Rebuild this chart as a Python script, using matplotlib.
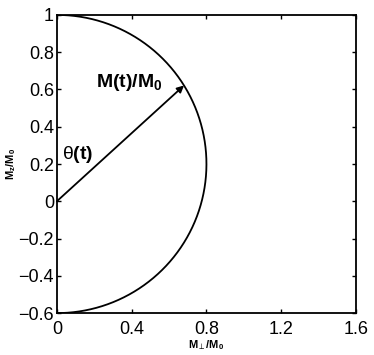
import numpy as np
import matplotlib
matplotlib.use('Agg')
import matplotlib.pyplot as plt

plt.rcParams['font.family'] = ['Liberation Sans', 'DejaVu Sans']
plt.rcParams['mathtext.fontset'] = 'custom'
plt.rcParams['mathtext.rm'] = 'Liberation Sans'
plt.rcParams['mathtext.bf'] = 'Liberation Sans:bold'
plt.rcParams['mathtext.it'] = 'Liberation Sans:italic'
plt.rcParams['mathtext.fallback'] = 'stixsans'

# circle traced by the magnetisation tip
center_z = 0.2
radius = 0.8
arrow_tip_x = 0.68

x_ticks = [0, 0.4, 0.8, 1.2, 1.6]
y_ticks = [-0.6, -0.4, -0.2, 0, 0.2, 0.4, 0.6, 0.8, 1]

phi = np.linspace(0, np.pi, 400)
mx = radius * np.sin(phi)
mz = center_z + radius * np.cos(phi)
tip_z = center_z + np.sqrt(radius**2 - arrow_tip_x**2)

fig = plt.figure(figsize=(3.74, 3.55), dpi=100)
ax = fig.add_axes([0.152, 0.118, 0.800, 0.840])
ax.plot(mx, mz, color='black', lw=1.3)
ax.annotate('', xy=(arrow_tip_x, tip_z), xytext=(0, 0),
            arrowprops=dict(arrowstyle='-|>', color='black', lw=1.3,
                            mutation_scale=10, shrinkA=0, shrinkB=0))
ax.text(0.21, 0.615, r'$\mathbf{M(t)/M}_{\mathbf{0}}$', fontsize=14)
ax.text(0.03, 0.225, r'$\mathrm{\theta}\mathbf{(t)}$', fontsize=14)

ax.set_xlim(0, 1.6)
ax.set_ylim(-0.6, 1)
ax.set_xticks(x_ticks)
ax.set_xticklabels(['0', '0.4', '0.8', '1.2', '1.6'])
ax.set_yticks(y_ticks)
ax.set_yticklabels(['\u22120.6', '\u22120.4', '\u22120.2', '0', '0.2', '0.4', '0.6', '0.8', '1'])
ax.tick_params(direction='in', length=3, width=1, labelsize=13,
               top=True, right=True)
ax.tick_params(axis='x', pad=6)
ax.tick_params(axis='y', pad=2)
for s in ax.spines.values():
    s.set_linewidth(1.3)
ax.set_xlabel(r'$\mathbf{M}_{\perp}\mathbf{/M}_{\mathbf{0}}$', fontsize=8, labelpad=0)
ax.set_ylabel(r'$\mathbf{M}_{\mathbf{z}}\mathbf{/M}_{\mathbf{0}}$', fontsize=8, labelpad=0)

fig.savefig('out.png', dpi=100)
